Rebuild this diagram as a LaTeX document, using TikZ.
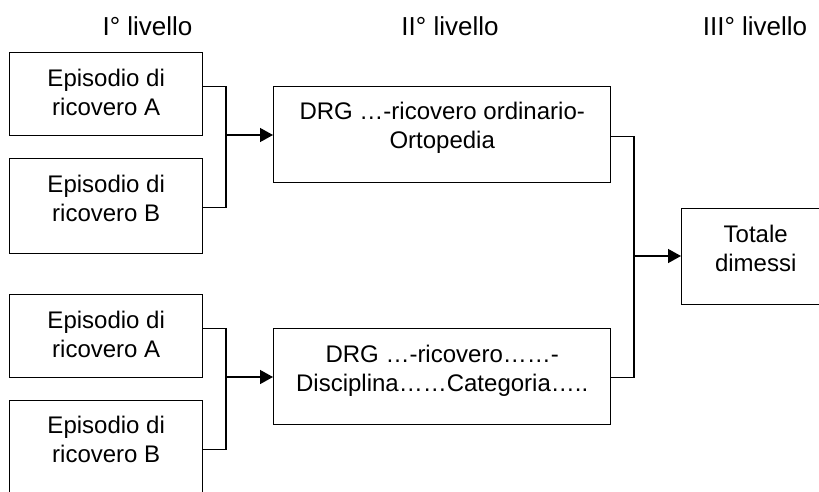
\documentclass[tikz,border=0pt]{standalone}
\usepackage{fontspec}
\setmainfont{Liberation Sans}
\usetikzlibrary{arrows.meta,positioning}

\begin{document}
\begin{tikzpicture}[
  x=1pt, y=-1pt,
  box/.style={draw, line width=1.4pt, anchor=north west, minimum width=193pt, inner sep=0pt},
  boxtext/.style={align=center, anchor=base, inner sep=0pt, font=\fontsize{24pt}{29pt}\selectfont},
  level/.style={anchor=base, inner sep=0pt, font=\fontsize{26pt}{30pt}\selectfont},
  link/.style={draw, line width=1.4pt},
  linkarrow/.style={link, -{Triangle[length=13pt,width=14pt]}}
]
\clip (0,0) rectangle (819,491);

% livelli
\node (lev1) [level] at (147.5,35) {I° livello};
\node (lev2) [level] at (450,35) {II° livello};
\node (lev3) [level] at (755,35) {III° livello};

% I livello
\node (ep1) [box, minimum height=83pt] at (9,52) {};
\node (ep2) [box, minimum height=95pt] at (9,158) {};
\node (ep3) [box, minimum height=83pt] at (9,294) {};
\node (ep4) [box, minimum height=95pt] at (9,400) {};
\node (ep1t) [boxtext] at ([yshift=-63pt]ep1.north) {Episodio di\\ricovero A};
\node (ep2t) [boxtext] at ([yshift=-63pt]ep2.north) {Episodio di\\ricovero B};
\node (ep3t) [boxtext] at ([yshift=-63pt]ep3.north) {Episodio di\\ricovero A};
\node (ep4t) [boxtext] at ([yshift=-62pt]ep4.north) {Episodio di\\ricovero B};

% II livello
\node (drg1) [box, minimum width=337pt, minimum height=96pt] at (273,86) {};
\node (drg2) [box, minimum width=337pt, minimum height=96pt] at (273,328) {};
\node (drg1t) [boxtext] at ([yshift=-62pt]drg1.north) {DRG …-ricovero ordinario-\\Ortopedia};
\node (drg2t) [boxtext] at ([yshift=-63pt]drg2.north) {DRG …-ricovero……-\\Disciplina……Categoria…..};

% III livello
\node (tot) [box, minimum width=148pt, minimum height=96pt] at (681,208) {};
\node (tott) [boxtext] at ([yshift=-63pt]tot.north) {Totale\\dimessi};

% collegamenti
\coordinate (j1) at (226,135);
\coordinate (j2) at (226,377);
\coordinate (j3) at (634,256);

\draw[link] ([yshift=7.5pt]ep1.east) -| (j1) |- ([yshift=-1.5pt]ep2.east);
\draw[link] ([yshift=7.5pt]ep3.east) -| (j2) |- ([yshift=-1.5pt]ep4.east);
\draw[link] ([yshift=-2pt]drg1.east) -| (j3) |- ([yshift=-1pt]drg2.east);

\draw[linkarrow] (j1) -- (j1 -| drg1.west);
\draw[linkarrow] (j2) -- (j2 -| drg2.west);
\draw[linkarrow] (j3) -- (j3 -| tot.west);
\end{tikzpicture}
\end{document}
